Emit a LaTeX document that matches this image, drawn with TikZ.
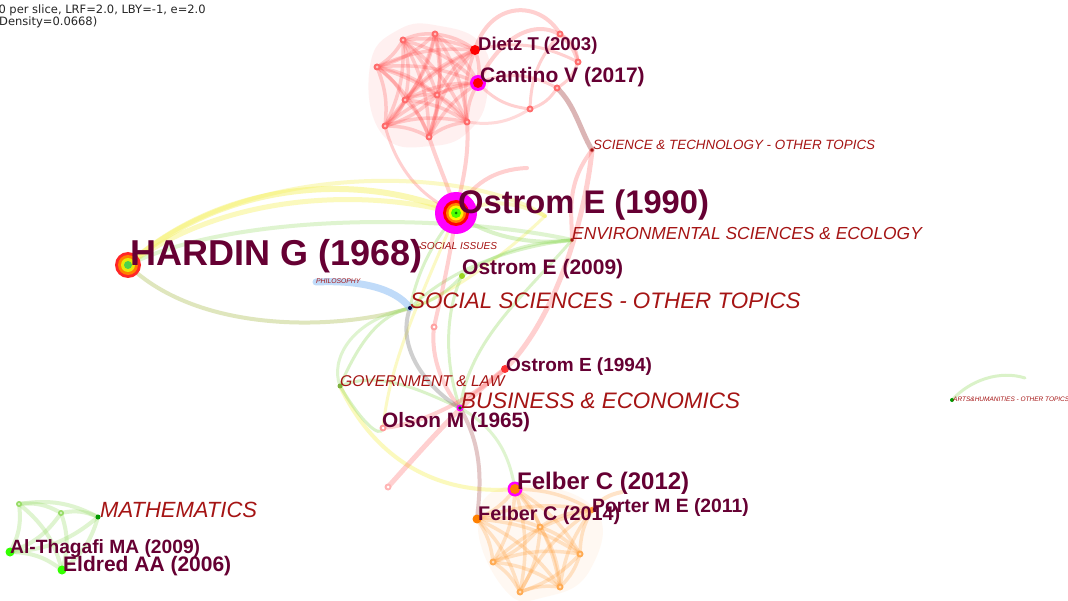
\documentclass[tikz,border=0pt]{standalone}
\usepackage{fontspec}
\newfontfamily\lsans{Liberation Sans}
\newfontfamily\dsans{DejaVu Sans}
\definecolor{authc}{RGB}{102,0,51}
\definecolor{catc}{RGB}{165,20,20}
\definecolor{lkyel}{RGB}{245,240,90}
\definecolor{lkgrn}{RGB}{150,220,100}
\definecolor{lkolv}{RGB}{185,200,110}
\definecolor{lkred}{RGB}{255,70,70}
\definecolor{lkbrn}{RGB}{165,70,70}
\definecolor{lkgry}{RGB}{120,120,120}
\definecolor{lkblu}{RGB}{150,195,245}
\definecolor{lkorg}{RGB}{255,150,40}
\definecolor{magn}{RGB}{255,0,255}
\begin{document}
\begin{tikzpicture}[x=1pt,y=-1pt,
  authlab/.style={text=authc, inner sep=0pt, anchor=base west, font={\lsans\bfseries\fontsize{#1pt}{#1pt}\selectfont}},
  catlab/.style={text=catc, inner sep=0pt, anchor=base west, font={\lsans\itshape\fontsize{#1pt}{#1pt}\selectfont}},
  lk/.style={line cap=round, line width=#1, opacity=0.4},
  lk/.default=4,
  hdr/.style={inner sep=0pt, anchor=base west, text=black!85, font={\dsans\fontsize{11.5pt}{11.5pt}\selectfont}}
]
\useasboundingbox (0,0) rectangle (1068,601);
\clip (0,0) rectangle (1068,601);
\fill[white] (0,0) rectangle (1068,601);

% ---------- node positions ----------
\coordinate (hardin) at (128,265);
\coordinate (ostrom90) at (456,213);
\coordinate (dietz) at (475,50);
\coordinate (cantino) at (478,83);
\coordinate (scitech) at (592,150);
\coordinate (envsci) at (572,240);
\coordinate (socissues) at (420,247);
\coordinate (ostrom09) at (462,276);
\coordinate (philos) at (316,282);
\coordinate (socsci) at (410,308);
\coordinate (ostrom94) at (505,369);
\coordinate (govlaw) at (340,386);
\coordinate (business) at (460,408);
\coordinate (olson) at (383,428);
\coordinate (felber12) at (515,489);
\coordinate (felber14) at (477,519);
\coordinate (porter) at (592,510);
\coordinate (maths) at (98,517);
\coordinate (alth) at (10,552);
\coordinate (eldred) at (62,570);
\coordinate (arts) at (952,400);
\coordinate (artsend) at (1025,378);
\coordinate (pk) at (388,487);
\coordinate (rs) at (434,327);
\coordinate (rtop) at (527,168);
\coordinate (yend) at (545,216);
\coordinate (oend) at (622,492);
% red cluster
\coordinate (ra) at (403,40);
\coordinate (rb) at (435,34);
\coordinate (rc) at (377,67);
\coordinate (rd) at (405,100);
\coordinate (re) at (437,95);
\coordinate (rf) at (385,126);
\coordinate (rg) at (429,137);
\coordinate (rh) at (467,122);
\coordinate (ri) at (560,34);
\coordinate (rj) at (578,62);
\coordinate (rk) at (557,88);
\coordinate (rl) at (530,109);
% orange cluster
\coordinate (oa) at (540,527);
\coordinate (ob) at (493,562);
\coordinate (oc) at (580,554);
\coordinate (od) at (520,592);
\coordinate (oe) at (560,587);
% green cluster
\coordinate (ga) at (19,504);
\coordinate (gb) at (61,513);

% ---------- red cluster ----------
\fill[lkred, opacity=0.08] plot[smooth cycle, tension=0.8] coordinates {(370,66) (398,30) (440,26) (482,45) (488,88) (472,128) (432,146) (382,134)};
\foreach[count=\i] \a in {ra,rb,rc,rd,re,rf,rg,rh,dietz,cantino}{
  \foreach[count=\j] \b in {ra,rb,rc,rd,re,rf,rg,rh,dietz,cantino}{
    \ifnum\j>\i
      \draw[lk=3.5, lkred, opacity=0.24] (\a) to[bend left=14] (\b);
    \fi
  }
}
\draw[lk=4, lkred, opacity=0.25] (dietz) .. controls (490,0) and (540,0) .. (ri);
\draw[lk=4, lkred, opacity=0.25] (cantino) .. controls (510,15) and (565,15) .. (rj);
\draw[lk=3, lkred, opacity=0.25] (cantino) to[bend left=25] (rk);
\draw[lk=3, lkred, opacity=0.25] (cantino) to[bend right=20] (rl);
\draw[lk=3, lkred, opacity=0.25] (dietz) to[bend left=20] (rj);
\draw[lk=3, lkred, opacity=0.25] (ri) to[bend left=30] (rj);
\draw[lk=3, lkred, opacity=0.25] (rj) to[bend left=20] (rk);
\draw[lk=3, lkred, opacity=0.25] (rk) to[bend left=20] (rl);
\draw[lk=3, lkred, opacity=0.25] (ri) to[bend right=20] (rl);
\draw[lk=3, lkred, opacity=0.2] (rh) to[bend right=20] (rl);
\draw[lk=5, lkbrn, opacity=0.4] (rk) .. controls (575,105) and (580,130) .. (scitech);

% ---------- links ----------
% yellow
\draw[lk=6, lkyel, opacity=0.45] (hardin) .. controls (230,175) and (370,175) .. (ostrom90);
\draw[lk=5, lkyel, opacity=0.4] (hardin) .. controls (230,190) and (370,190) .. (ostrom90);
\draw[lk=4, lkyel, opacity=0.35] (hardin) .. controls (240,160) and (470,165) .. (yend);
\draw[lk=4, lkyel, opacity=0.35] (ostrom90) to[bend left=25] (yend);
\draw[lk=4, lkyel, opacity=0.4] (govlaw) .. controls (380,470) and (450,495) .. (felber12);
\draw[lk=3, lkyel, opacity=0.35] (ostrom90) .. controls (420,300) and (390,360) .. (olson);
\draw[lk=3, lkyel, opacity=0.35] (socsci) .. controls (440,300) and (500,260) .. (yend);
% green
\draw[lk=4, lkgrn, opacity=0.3] (hardin) .. controls (240,210) and (460,215) .. (envsci);
\draw[lk=4, lkolv, opacity=0.45] (hardin) .. controls (200,335) and (340,330) .. (socsci);
\draw[lk=4, lkgrn, opacity=0.35] (ostrom90) .. controls (490,240) and (540,245) .. (envsci);
\draw[lk=3, lkgrn, opacity=0.35] (ostrom09) to[bend left=15] (envsci);
\draw[lk=3, lkgrn, opacity=0.35] (socsci) .. controls (460,260) and (530,245) .. (envsci);
\draw[lk=3, lkgrn, opacity=0.35] (socsci) .. controls (420,260) and (440,235) .. (ostrom90);
\draw[lk=3, lkgrn, opacity=0.35] (socsci) to[bend right=15] (ostrom09);
\draw[lk=3, lkgrn, opacity=0.35] (govlaw) .. controls (360,340) and (380,315) .. (socsci);
\draw[lk=3, lkgrn, opacity=0.35] (govlaw) .. controls (380,370) and (420,390) .. (business);
\draw[lk=3, lkgrn, opacity=0.35] (govlaw) .. controls (360,420) and (380,440) .. (olson);
\draw[lk=3, lkgrn, opacity=0.35] (business) .. controls (440,350) and (450,300) .. (ostrom09);
\draw[lk=3, lkgrn, opacity=0.35] (business) .. controls (470,340) and (520,300) .. (envsci);
\draw[lk=3, lkgrn, opacity=0.3] (business) .. controls (500,430) and (510,460) .. (felber12);
\draw[lk=3, lkgrn, opacity=0.3] (socsci) .. controls (350,320) and (330,360) .. (govlaw);
\draw[lk=3, lkgrn, opacity=0.35] (arts) .. controls (970,380) and (1000,370) .. (artsend);
% red / pink
\draw[lk=4, lkred, opacity=0.25] (rg) .. controls (440,170) and (450,190) .. (ostrom90);
\draw[lk=4, lkred, opacity=0.25] (rh) .. controls (470,160) and (460,190) .. (ostrom90);
\draw[lk=3, lkred, opacity=0.25] (rf) .. controls (400,180) and (430,200) .. (ostrom90);
\draw[lk=4, lkred, opacity=0.25] (ostrom90) to[bend left=30] (rtop);
\draw[lk=5, lkred, opacity=0.25] (pk) .. controls (430,440) and (470,395) .. (ostrom94);
\draw[lk=5, lkred, opacity=0.25] (ostrom94) .. controls (555,320) and (585,220) .. (scitech);
\draw[lk=4, lkred, opacity=0.25] (scitech) .. controls (565,185) and (572,215) .. (envsci);
\draw[lk=4, lkred, opacity=0.25] (ostrom90) .. controls (450,260) and (440,300) .. (rs);
\draw[lk=4, lkred, opacity=0.25] (rs) .. controls (430,360) and (445,390) .. (business);
\draw[lk=4, lkred, opacity=0.25] (olson) .. controls (420,425) and (470,400) .. (ostrom94);
% grey / brown / blue
\draw[lk=4, lkgry, opacity=0.35] (socsci) .. controls (395,350) and (430,390) .. (business);
\draw[lk=4, lkbrn, opacity=0.3] (business) .. controls (485,450) and (480,490) .. (felber14);
\draw[lk=7, lkblu, opacity=0.6] (philos) .. controls (360,280) and (395,288) .. (socsci);

% ---------- orange cluster ----------
\fill[lkorg, opacity=0.06] plot[smooth cycle, tension=0.8] coordinates {(515,486) (594,508) (590,570) (545,597) (505,590) (478,520)};
\foreach[count=\i] \a in {felber12,felber14,oa,ob,oc,od,oe,porter}{
  \foreach[count=\j] \b in {felber12,felber14,oa,ob,oc,od,oe,porter}{
    \ifnum\j>\i
      \draw[lk=3.5, lkorg, opacity=0.24] (\a) to[bend left=14] (\b);
    \fi
  }
}
\draw[lk=4, lkorg, opacity=0.25] (porter) to[bend left=20] (oend);

% ---------- green cluster ----------
\foreach[count=\i] \a in {ga,gb,maths,alth,eldred}{
  \foreach[count=\j] \b in {ga,gb,maths,alth,eldred}{
    \ifnum\j>\i
      \draw[lk=4, lkgrn, opacity=0.3] (\a) to[bend left=18] (\b);
    \fi
  }
}

% ---------- node markers ----------
\foreach \n in {ra,rb,rc,rd,re,rf,rg,rh,ri,rj,rk,rl}{
  \fill[lkred!80] (\n) circle[radius=3.5pt];
  \fill[white, opacity=0.6] (\n) circle[radius=1.5pt];
}
\foreach \n in {oa,ob,oc,od,oe}{
  \fill[lkorg!80] (\n) circle[radius=3.5pt];
  \fill[white, opacity=0.6] (\n) circle[radius=1.5pt];
}
\foreach \n in {ga,gb}{
  \fill[lkgrn] (\n) circle[radius=3pt];
  \fill[white, opacity=0.6] (\n) circle[radius=1.3pt];
}
\fill[lkred!40] (pk) circle[radius=3.5pt]; \fill[white] (pk) circle[radius=1.5pt];
\fill[lkred!50] (rs) circle[radius=3.5pt]; \fill[white] (rs) circle[radius=1.5pt];
% Hardin
\fill[red!85] (hardin) circle[radius=13pt];
\fill[orange] (hardin) circle[radius=10pt];
\fill[yellow!90!green] (hardin) circle[radius=7pt];
\fill[green!75!black!70] (hardin) circle[radius=4pt];
% Ostrom 1990
\fill[magn] (ostrom90) circle[radius=21pt];
\fill[red] (ostrom90) circle[radius=13pt];
\fill[orange] (ostrom90) circle[radius=10pt];
\fill[yellow] (ostrom90) circle[radius=7.5pt];
\fill[green!70!yellow] (ostrom90) circle[radius=5pt];
\fill[green!50!black] (ostrom90) circle[radius=1.5pt];
% others
\fill[red] (dietz) circle[radius=5pt];
\fill[magn] (cantino) circle[radius=8pt];
\fill[red] (cantino) circle[radius=5pt];
\fill[magn] (felber12) circle[radius=7.5pt];
\fill[orange] (felber12) circle[radius=5pt];
\fill[orange] (felber14) circle[radius=4.5pt];
\fill[orange!80] (porter) circle[radius=3pt];
\fill[red!80] (ostrom94) circle[radius=4pt];
\fill[red!40] (olson) circle[radius=3.5pt]; \fill[white] (olson) circle[radius=1.5pt];
\fill[yellow!60!green] (ostrom09) circle[radius=3pt];
\fill[magn] (business) circle[radius=3.5pt];
\fill[green!40!black] (business) circle[radius=1.8pt];
\fill[black!70!blue] (socsci) circle[radius=2pt];
\fill[yellow!50!green!80!black] (govlaw) circle[radius=2.5pt];
\fill[catc] (envsci) circle[radius=1.8pt];
\fill[catc] (scitech) circle[radius=1.8pt];
\fill[catc] (socissues) circle[radius=1pt];
\fill[green!60!black] (maths) circle[radius=2.5pt];
\fill[green!80!yellow] (alth) circle[radius=4.5pt];
\fill[green!80!yellow] (eldred) circle[radius=4.5pt];
\fill[green!60!black] (arts) circle[radius=2pt];

% ---------- labels ----------
\node[authlab=36] (lhardin) at (130,266) {HARDIN G (1968)};
\node[authlab=32.7] (lostrom90) at (458,214) {Ostrom E (1990)};
\node[authlab=18.5] (ldietz) at (478,51) {Dietz T (2003)};
\node[authlab=21] (lcantino) at (480,83) {Cantino V (2017)};
\node[authlab=21] (lostrom09) at (462,275) {Ostrom E (2009)};
\node[authlab=19] (lostrom94) at (506,372) {Ostrom E (1994)};
\node[authlab=20.8] (lolson) at (382,428) {Olson M (1965)};
\node[authlab=24] (lfelber12) at (517,489) {Felber C (2012)};
\node[authlab=19.8] (lfelber14) at (478,520) {Felber C (2014)};
\node[authlab=19.3] (lporter) at (592,512) {Porter M E (2011)};
\node[authlab=19.2] (lalth) at (10,553) {Al-Thagafi MA (2009)};
\node[authlab=21] (leldred) at (63,571) {Eldred AA (2006)};

\node[catlab=22.4] (lsocsci) at (410,309) {SOCIAL SCIENCES - OTHER TOPICS};
\node[catlab=17.4] (lenvsci) at (572,240) {ENVIRONMENTAL SCIENCES \& ECOLOGY};
\node[catlab=13.4] (lscitech) at (593,150) {SCIENCE \& TECHNOLOGY - OTHER TOPICS};
\node[catlab=22.4] (lbusiness) at (461,408) {BUSINESS \& ECONOMICS};
\node[catlab=15.6] (lgovlaw) at (340,386) {GOVERNMENT \& LAW};
\node[catlab=22] (lmaths) at (100,517) {MATHEMATICS};
\node[catlab=10.1] (lsocissues) at (420,250) {SOCIAL ISSUES};
\node[catlab=6.8] (lphilos) at (316,284) {PHILOSOPHY};
\node[catlab=6.5] (larts) at (953,401) {ARTS\&HUMANITIES - OTHER TOPICS};

% ---------- header ----------
\node[hdr] (hdr2) at (-9,14) {50 per slice, LRF=2.0, LBY=-1, e=2.0};
\node[hdr] (hdr3) at (-1,26) {Density=0.0668)};
\end{tikzpicture}
\end{document}
